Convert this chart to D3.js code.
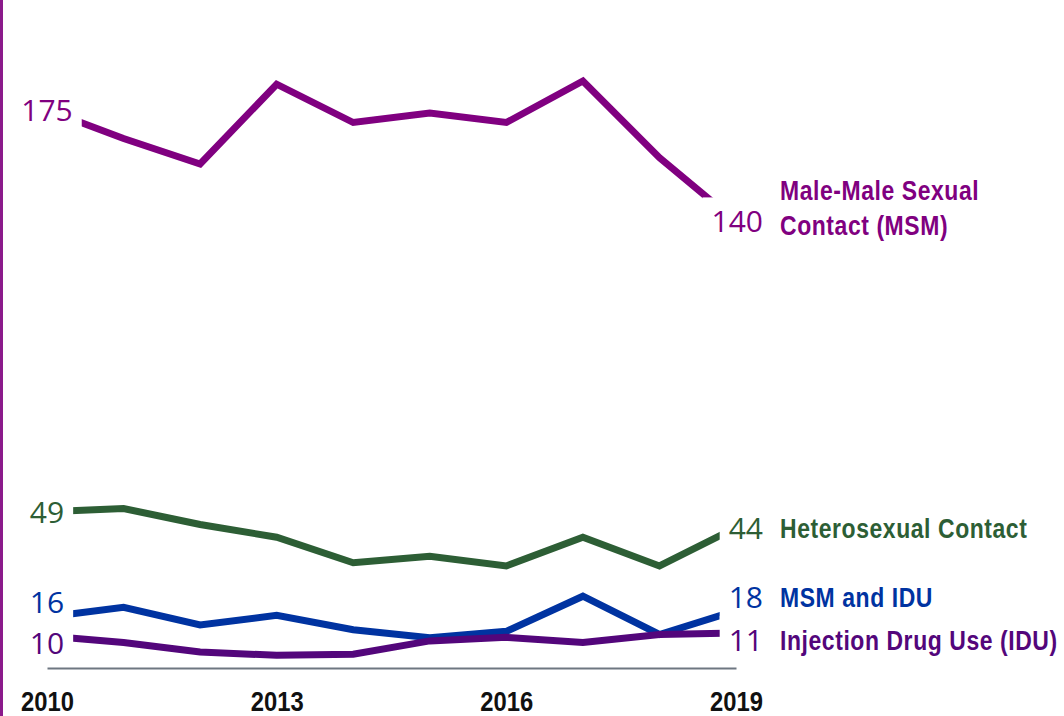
<!DOCTYPE html>
<html>
<head>
<meta charset="utf-8">
<script src="https://cdnjs.cloudflare.com/ajax/libs/d3/7.8.5/d3.min.js"></script>
<style>
  body { margin: 0; background: #fff; }
  svg { display: block; }
</style>
</head>
<body>
<svg id="chart" width="1064" height="716"></svg>
<script>
// data
var years = [2010, 2011, 2012, 2013, 2014, 2015, 2016, 2017, 2018, 2019];
var msmValues    = [175, 166, 158, 183, 171, 174, 171, 184, 160, 140];
var hetValues    = [49, 50, 45, 41, 33, 35, 32, 41, 32, 44];
var msmIduValues = [16, 19, 13.5, 16.5, 12, 9.5, 11.5, 22.5, 10.5, 18];
var iduValues    = [10, 8, 5, 4, 4.3, 8.5, 9.6, 8, 10.5, 11];
var seriesNames  = [["Male-Male Sexual", "Contact (MSM)"], ["Heterosexual Contact"], ["MSM and IDU"], ["Injection Drug Use (IDU)"]];
var tickYears    = [2010, 2013, 2016, 2019];

var colors = ["#800080", "#2d5e35", "#0033a1", "#53067b"];
var allValues = [msmValues, hetValues, msmIduValues, iduValues];

var series = allValues.map(function(v, i){
  return { values: v, name: seriesNames[i], color: colors[i] };
});

var svg = d3.select("#chart");
var width = 1064, height = 716;
// no narrow font installed, so squeeze the bold face horizontally
var narrow = 0.82;

var x = d3.scaleLinear().domain([2010, 2019]).range([47, 736]);
var y = d3.scaleLinear().domain([0, 200]).range([668, 30]);

// purple rule down the left edge
svg.append("rect")
   .attr("x", 0).attr("y", 0)
   .attr("width", 3).attr("height", height)
   .attr("fill", "#8b1a8b");

// lines
var line = d3.line()
   .x(function(d, i){ return x(years[i]); })
   .y(function(d){ return y(d); });

svg.append("g").selectAll("path")
   .data(series)
   .enter()
   .append("path")
     .attr("d", function(d){ return line(d.values); })
     .attr("fill", "none")
     .attr("stroke", function(d){ return d.color; })
     .attr("stroke-width", 7)
     .attr("stroke-linejoin", "miter");

// push labels apart when they crowd each other (upper one gives way more)
function spread(items, minGap){
  items.sort(function(a, b){ return a.cy - b.cy; });
  for (var k = 0; k < 20; k++) {
    for (var i = 1; i < items.length; i++) {
      var gap = items[i].cy - items[i - 1].cy;
      if (gap < minGap) {
        var shift = minGap - gap;
        items[i - 1].cy -= shift * 2 / 3;
        items[i].cy += shift / 3;
      }
    }
  }
  return items;
}

var startItems = spread(series.map(function(s){
  return { s: s, text: String(s.values[0]), cy: y(s.values[0]) };
}), 41);
var endItems = spread(series.map(function(s){
  return { s: s, text: String(s.values[s.values.length - 1]), cy: y(s.values[s.values.length - 1]) };
}), 43);

var bgLayer = svg.append("g");
var textLayer = svg.append("g");

function numberLabel(item, xPos, anchor){
  var t = textLayer.append("text")
     .attr("x", xPos)
     .attr("y", item.cy + 11)
     .attr("text-anchor", anchor)
     .attr("fill", item.s.color)
     .style("font-family", "'Open Sans', sans-serif")
     .style("font-weight", 400)
     .style("font-size", "30px")
     .text(item.text);
  var b = t.node().getBBox();
  // white patch so the line stops short of the number
  bgLayer.append("rect")
     .attr("x", b.x - 9).attr("y", b.y - 3)
     .attr("width", b.width + 18).attr("height", b.height + 6)
     .attr("fill", "#fff");
}

startItems.forEach(function(it){ numberLabel(it, x(2010), "middle"); });
endItems.forEach(function(it){ numberLabel(it, x(2019) + 27, "end"); });

// series names on the right
endItems.forEach(function(it){
  var n = it.s.name.length;
  var t = textLayer.append("g")
     .attr("transform", "translate(780,0) scale(" + narrow + ",1)")
     .append("text")
     .attr("fill", it.s.color)
     .style("font-family", "'Liberation Sans', Arial, sans-serif")
     .style("font-weight", "bold")
     .style("font-size", "28px")
     .style("letter-spacing", "0.7px");
  it.s.name.forEach(function(part, j){
    t.append("tspan")
     .attr("x", 0)
     .attr("y", it.cy + 10 - 31.5 * (n - 1) + j * 35)
     .text(part);
  });
});

// x axis, drawn last so the label patches never hide it
var axis = svg.append("g")
   .attr("transform", "translate(0," + y(0) + ")")
   .call(d3.axisBottom(x)
     .tickValues(tickYears)
     .tickFormat(d3.format("d"))
     .tickSize(0)
     .tickSizeOuter(0)
     .tickPadding(23));
axis.select(".domain").attr("stroke", "#6e7781").attr("stroke-width", 2);
axis.selectAll("text")
   .attr("fill", "#111")
   .attr("transform", "scale(" + (narrow + 0.03) + ",1)")
   .style("font-family", "'Liberation Sans', Arial, sans-serif")
   .style("font-weight", "bold")
   .style("font-size", "28px");
</script>
</body>
</html>
